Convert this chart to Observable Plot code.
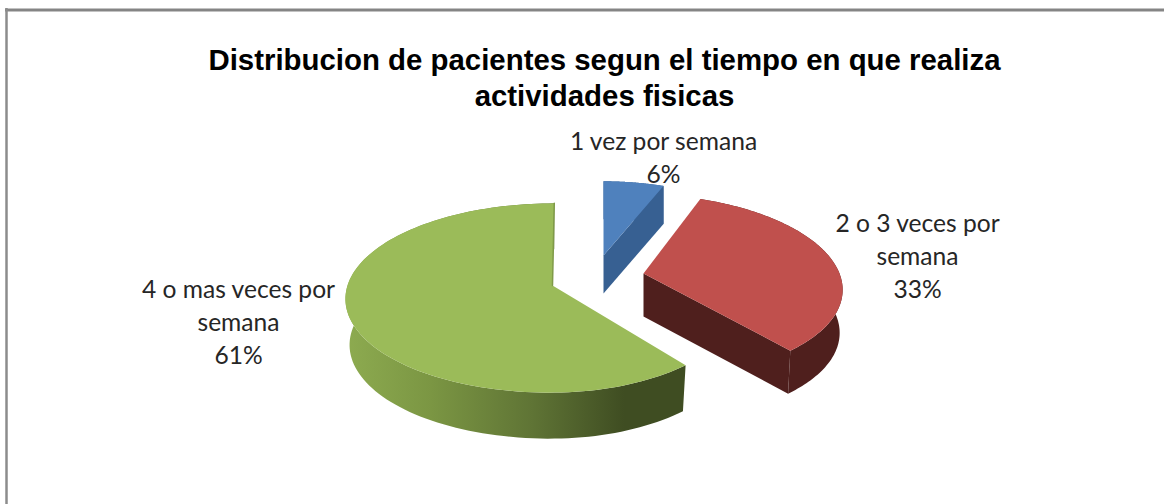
<!DOCTYPE html>
<html lang="es">
<head>
<meta charset="utf-8">
<script src="https://cdn.jsdelivr.net/npm/d3@7"></script>
<script src="https://cdn.jsdelivr.net/npm/@observablehq/plot@0.6"></script>
<style>
html,body{margin:0;padding:0;background:#fff;overflow:hidden}
svg{display:block}
</style>
</head>
<body>
<div id="chart"></div>
<script>
// ---- data ----
const categories = ["1 vez por semana", "2 o 3 veces por semana", "4 o mas veces por semana"];
const shares = [6, 33, 61];
const titleLines = ["Distribucion de pacientes segun el tiempo en que realiza", "actividades fisicas"];
const labelLines = [
  ["1 vez por semana", "6%"],
  ["2 o 3 veces por", "semana", "33%"],
  ["4 o mas veces por", "semana", "61%"]
];

// ---- layout (pixel frame of the exploded 3-D pie) ----
const W = 1164, H = 504;
const tops  = ["#4f81bd", "#c0504d", "#9bbb59"];
const walls = ["#376092", "#4f1f1d", "url(#greenWall)"];
const frames = [
  {ax: 603, ay: 255, Rl: 183, Rr: 183, S: 84, s: 0,  p: .132, depth: 38, k: 1},
  {ax: 643, ay: 273, Rl: 196, Rr: 196, S: 90, s: -9, p: .132, depth: 43, k: .985},
  {ax: 552, ay: 285, Rl: 205, Rr: 190, S: 93, s: 2,  p: .132, depth: 46, k: .98}
];
const labelAnchors = [
  {x: 663, y: 142, lh: 33},
  {x: 917, y: 224, lh: 33},
  {x: 238, y: 290, lh: 33}
];

// ---- geometry derived from the shares ----
function project(f, deg, down) {
  const t = deg * Math.PI / 180, u = Math.sin(t), v = Math.cos(t), w = 1 + f.p * v;
  const scale = down ? f.k : 1;
  const R = u < 0 ? f.Rl : f.Rr;
  return {
    x: f.ax + scale * (R * u + f.s * v) / w,
    y: f.ay - f.S * v / w + (down ? f.depth : 0)
  };
}
const apex = (f, down) => ({x: f.ax, y: f.ay + (down ? f.depth : 0)});
const arc = (f, a, b, down) => d3.range(0, 121).map(i => project(f, a + (b - a) * i / 120, down));

let cum = 0;
const slices = shares.map((v, i) => {
  const a0 = cum / 100 * 360; cum += v; const a1 = cum / 100 * 360;
  return {name: categories[i], a0, a1, f: frames[i], top: tops[i], wall: walls[i]};
});

const polys = [];
for (const s of slices) {
  // outer rim wall
  polys.push({pts: [...arc(s.f, s.a0, s.a1, false), ...arc(s.f, s.a1, s.a0, true)], fill: s.wall});
  // visible cut face at the clockwise end of the slice (not for the last, which faces away)
  if (s.a1 < 360) {
    polys.push({pts: [apex(s.f, false), project(s.f, s.a1, false), project(s.f, s.a1, true), apex(s.f, true)], fill: s.wall});
  }
}
for (const s of slices) {
  polys.push({pts: [apex(s.f, false), ...arc(s.f, s.a0, s.a1, false)], fill: s.top});
}
const greenSlice = slices[2];
const sliver = [apex(greenSlice.f, false), project(greenSlice.f, 360, false)];

const titleRows = titleLines.map((t, i) => ({t, x: 604, y: 60 + i * 36}));
const labelRows = labelLines.flatMap((ls, i) => ls.map((t, j) => ({t, x: labelAnchors[i].x, y: labelAnchors[i].y + j * labelAnchors[i].lh})));

const defs = () => {
  const ns = "http://www.w3.org/2000/svg";
  const d = document.createElementNS(ns, "defs");
  const g = document.createElementNS(ns, "linearGradient");
  g.setAttribute("id", "greenWall");
  g.setAttribute("gradientUnits", "userSpaceOnUse");
  g.setAttribute("x1", 345); g.setAttribute("x2", 685);
  g.setAttribute("y1", 0); g.setAttribute("y2", 0);
  [[0, "#8dab50"], [.25, "#7b9643"], [.55, "#5f7435"], [.82, "#3f4d22"], [1, "#3f4d22"]].forEach(([o, c]) => {
    const st = document.createElementNS(ns, "stop");
    st.setAttribute("offset", o); st.setAttribute("stop-color", c);
    g.appendChild(st);
  });
  d.appendChild(g);
  return d;
};

const chart = Plot.plot({
  width: W, height: H,
  margin: 0,
  style: {background: "#fff"},
  x: {domain: [0, W], range: [0, W], axis: null},
  y: {domain: [0, H], range: [0, H], axis: null},
  marks: [
    defs,
    Plot.ruleY([9.5], {x1: 5, x2: W, stroke: "#858585", strokeWidth: 3}),
    Plot.ruleX([6], {y1: 8, y2: H, stroke: "#8c8c8c", strokeWidth: 2.5}),
    ...polys.map(p => Plot.line(p.pts, {x: "x", y: "y", fill: p.fill, stroke: "none", curve: "linear"})),
    Plot.line(sliver, {x: "x", y: "y", stroke: "#7f9a48", strokeWidth: 1.5}),
    Plot.text(titleRows, {x: "x", y: "y", text: "t", fontFamily: "Liberation Sans", fontWeight: "bold", fontSize: 29.4, fill: "#000", textAnchor: "middle", lineAnchor: "middle"}),
    Plot.text(labelRows, {x: "x", y: "y", text: "t", fontFamily: "Lato", fontSize: 24.6, fill: "#262626", textAnchor: "middle", lineAnchor: "middle"})
  ]
});
document.getElementById("chart").appendChild(chart);
</script>
</body>
</html>
